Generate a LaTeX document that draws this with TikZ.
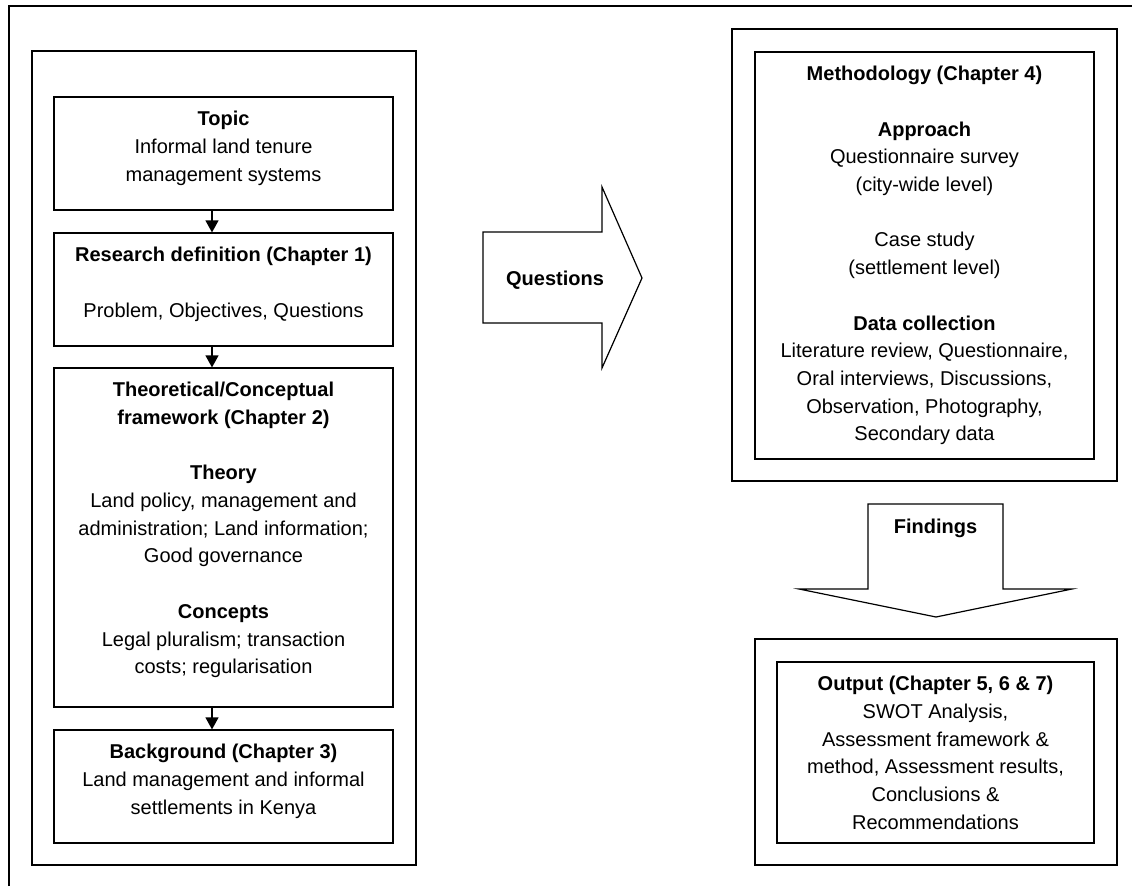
\documentclass[tikz,border=0pt]{standalone}
\usepackage{fontspec}
\setmainfont{Liberation Sans}
\usetikzlibrary{arrows.meta}
\begin{document}
\begin{tikzpicture}[x=1pt,y=-1pt,
  box/.style={draw, line width=1.2pt, rectangle, inner sep=0pt},
  frame/.style={draw, line width=2pt},
  txt/.style={anchor=north, inner sep=0pt, align=center, font=\fontsize{20}{27.7}\selectfont},
  lbl/.style={anchor=base, inner sep=0pt, font=\fontsize{20}{27.7}\selectfont\bfseries},
  conn/.style={line width=1.2pt, -{Triangle[length=12pt,width=13pt]}},
  blockarrow/.style={draw, line width=1.2pt, fill=white, line join=miter}
]
\useasboundingbox (0,0) rectangle (1132,886);
% outer frame (clipped on right and bottom)
\draw[frame] (9,886) -- (9,6) -- (1132,6);

% left column
\node[box, minimum width=384pt, minimum height=814pt] (leftframe) at (224,458) {};
\node[box, minimum width=339pt, minimum height=113pt] (topic) at (223.5,153.5) {};
\node[box, minimum width=339pt, minimum height=113pt] (research) at (223.5,289.5) {};
\node[box, minimum width=339pt, minimum height=339pt] (theory) at (223.5,537.5) {};
\node[box, minimum width=339pt, minimum height=113pt] (background) at (223.5,786.5) {};

\node[txt] (topictxt) at (223.5,109.5) {\rule{0pt}{16pt}\textbf{Topic}\\Informal land tenure\\management systems};
\node[txt] (researchtxt) at (223.5,245.5) {\rule{0pt}{16pt}\textbf{Research definition (Chapter 1)}\\[27.7pt]Problem, Objectives, Questions};
\node[txt] (theorytxt) at (223.5,380.5) {\rule{0pt}{16pt}\textbf{Theoretical/Conceptual}\\\textbf{framework (Chapter 2)}\\[27.7pt]\textbf{Theory}\\Land policy, management and\\administration; Land information;\\Good governance\\[27.7pt]\textbf{Concepts}\\Legal pluralism; transaction\\costs; regularisation};
\node[txt] (backgroundtxt) at (223.5,742.5) {\rule{0pt}{16pt}\textbf{Background (Chapter 3)}\\Land management and informal\\settlements in Kenya};

\draw[conn] ([xshift=-11.5pt]topic.south) -- ([xshift=-11.5pt]research.north);
\draw[conn] ([xshift=-11.5pt]research.south) -- ([xshift=-11.5pt]theory.north);
\draw[conn] ([xshift=-11.5pt]theory.south) -- ([xshift=-11.5pt]background.north);

% Questions block arrow
\draw[blockarrow] (483,232) -- (602,232) -- (602,187) -- (642,278) -- (602,368) -- (602,323) -- (483,323) -- cycle;
\node[lbl] (questions) at (555,285) {Questions};

% right column
\node[box, minimum width=385pt, minimum height=452pt] (methframe) at (924.5,255) {};
\node[box, minimum width=339pt, minimum height=407pt] (meth) at (924.5,255.5) {};
\node[txt] (methtxt) at (924.5,64.5) {\rule{0pt}{16pt}\textbf{Methodology (Chapter 4)}\\[27.7pt]\textbf{Approach}\\Questionnaire survey\\(city-wide level)\\[27.7pt]Case study\\(settlement level)\\[27.7pt]\textbf{Data collection}\\Literature review, Questionnaire,\\Oral interviews, Discussions,\\Observation, Photography,\\Secondary data};

% Findings block arrow
\draw[blockarrow] (868,504) -- (1003,504) -- (1003,589) -- (1072,589) -- (936,617) -- (799,589) -- (868,589) -- cycle;
\node[lbl] (findings) at (935.5,533) {Findings};

\node[box, minimum width=362pt, minimum height=226pt] (outframe) at (936,752) {};
\node[box, minimum width=317pt, minimum height=181pt] (output) at (935.5,752.5) {};
\node[txt] (outputtxt) at (935.5,674.5) {\rule{0pt}{16pt}\textbf{Output (Chapter 5, 6 \& 7)}\\SWOT Analysis,\\Assessment framework \&\\method, Assessment results,\\Conclusions \&\\Recommendations};
\end{tikzpicture}
\end{document}
